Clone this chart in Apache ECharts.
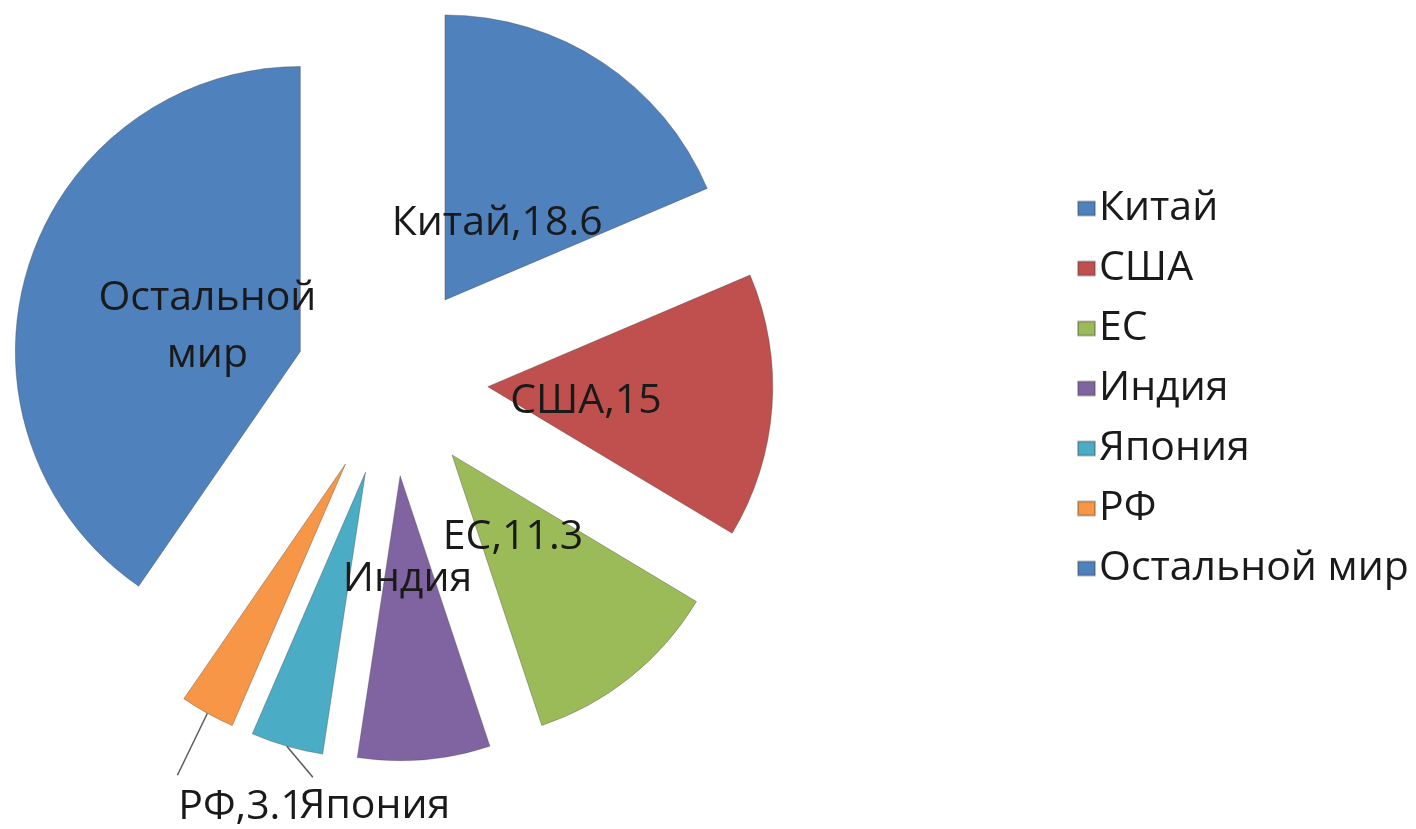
<!DOCTYPE html>
<html>
<head>
<meta charset="utf-8">
<script src="https://cdn.jsdelivr.net/npm/echarts@6/dist/echarts.min.js"></script>
<style>
html,body{margin:0;padding:0;background:#fff;}
#chart{width:1416px;height:829px;}
</style>
</head>
<body>
<div id="chart"></div>
<script>
// ---- data ----
const categories = ['Китай', 'США', 'ЕС', 'Индия', 'Япония', 'РФ', 'Остальной мир'];
const values = [18.6, 15, 11.3, 7.5, 4.1, 3.1, 40.4];
const labelShowsValue = [true, true, true, false, false, true, false];

// ---- style ----
const colors = ['#4f81bd', '#c0504d', '#9bbb59', '#8064a2', '#4bacc6', '#f79646', '#4f81bd'];
const CX = 392, CY = 380, R = 285, OFFSET = 96;
const FONT = 'Open Sans';
const FS = 41;
const outsideLabel = [false, false, false, false, true, true, false];
// label shift relative to ECharts default label position
const labelShift = {0: [-28, 45], 1: [-47, 5], 2: [-30, -31], 3: [-5, -41], 4: [104, 22], 5: [58, 59], 6: [46, 19]};
// outside label leader line (relative to the slice's outer-mid point)
const leaderLine = {4: [26, 31], 5: [-30, 62]};

const total = values.reduce((a, b) => a + b, 0);
function midDir(i) {
  let before = 0;
  for (let k = 0; k < i; k++) before += values[k];
  const a = (before + values[i] / 2) / total * 2 * Math.PI; // clockwise from 12 o'clock
  return [Math.sin(a), -Math.cos(a)];
}

const data = categories.map((name, i) => ({
  name: name,
  value: values[i],
  selected: true,
  itemStyle: {color: colors[i]},
  label: {position: outsideLabel[i] ? 'outside' : 'inner'},
  labelLine: {show: outsideLabel[i]}
}));

const chart = echarts.init(document.getElementById('chart'), null, {renderer: 'canvas'});
chart.setOption({
  backgroundColor: '#ffffff',
  animation: false,
  legend: {
    orient: 'vertical',
    left: 1077,
    top: 188,
    padding: 0,
    itemWidth: 17,
    itemHeight: 14,
    itemGap: 19,
    icon: 'rect',
    selectedMode: false,
    data: categories.map((c, i) => ({name: c, itemStyle: {color: colors[i]}})),
    textStyle: {fontFamily: FONT, fontSize: FS, color: '#1a1a1a', lineHeight: 40, padding: [0, 0, 0, -1]}
  },
  series: [{
    type: 'pie',
    center: [CX, CY],
    radius: [0, R],
    startAngle: 90,
    clockwise: true,
    selectedMode: 'multiple',
    selectedOffset: OFFSET,
    avoidLabelOverlap: false,
    emphasis: {disabled: true},
    itemStyle: {borderColor: 'rgba(60,60,60,0.35)', borderWidth: 1},
    label: {
      show: true,
      fontFamily: FONT,
      fontSize: FS,
      color: '#1a1a1a',
      lineHeight: 57,
      formatter: function (p) {
        const i = p.dataIndex;
        const name = outsideLabel[i] ? p.name : p.name.replace(' ', '\n');
        return labelShowsValue[i] ? name + ',' + p.value : name;
      }
    },
    labelLine: {lineStyle: {color: '#5a5a5a', width: 1.5}, length: 40, length2: 0},
    labelLayout: function (params) {
      const i = params.dataIndex;
      const out = {};
      if (labelShift[i]) {
        out.dx = labelShift[i][0];
        out.dy = labelShift[i][1];
      }
      if (leaderLine[i]) {
        // label line lives in the slice's (un-offset) frame
        const d = midDir(i);
        const p0 = [CX + R * d[0], CY + R * d[1]];
        const pe = [p0[0] + leaderLine[i][0], p0[1] + leaderLine[i][1]];
        out.align = 'center';
        out.verticalAlign = 'middle';
        out.labelLinePoints = [p0, pe, pe];
      }
      return out;
    },
    data: data
  }]
});
</script>
</body>
</html>
